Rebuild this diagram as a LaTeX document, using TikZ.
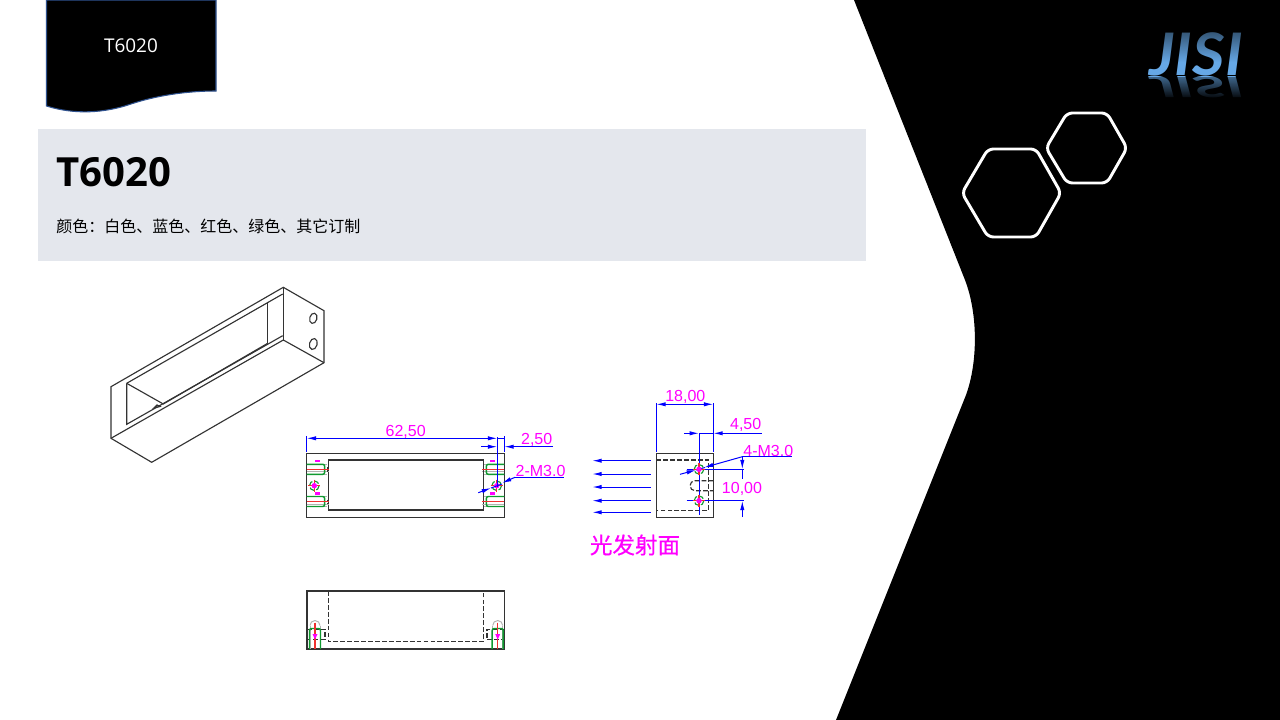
\documentclass[tikz,border=0pt]{standalone}
\usepackage{fontspec}
\setmainfont{Open Sans}
\newfontfamily\cjk{Noto Sans CJK SC}
\newfontfamily\cjkheavy[FakeBold=0.6]{Noto Sans CJK SC}
\newfontfamily\dimfont{Liberation Sans}
\newfontfamily\logofont{Lato}
\usetikzlibrary{arrows.meta,fadings}
\definecolor{bandgrey}{HTML}{E4E7ED}
\definecolor{tabedge}{HTML}{2F528F}
\definecolor{cadblue}{HTML}{0000FF}
\definecolor{cadgreen}{HTML}{109A30}
\definecolor{cadred}{HTML}{F03030}
\definecolor{cadmag}{HTML}{FF00FF}
\definecolor{cadline}{HTML}{333333}
\definecolor{logoblue}{HTML}{66A8E6}
\tikzfading[name=fadedown,top color=transparent!45,bottom color=transparent!100]
\tikzfading[name=faderefl,top color=transparent!60,bottom color=transparent!0]
\tikzset{
  cad/.style={draw=cadline,line width=.85pt},
  caddash/.style={draw=cadline,line width=.85pt,dash pattern=on 3.6pt off 1.6pt},
  dimline/.style={draw=cadblue,line width=.75pt},
  dimboth/.style={dimline,{Latex[length=7pt,width=3.2pt]}-{Latex[length=7pt,width=3.2pt]}},
  dimtip/.style={dimline,-{Latex[length=7pt,width=3.2pt]}},
  dimtext/.style={text=cadmag,inner sep=0pt,font=\dimfont\fontsize{12}{13}\selectfont},
  hexa/.style={draw=white,line width=2.2pt,rounded corners=4pt},
}
\newcommand{\screwh}[3]{% x of wall, y centre, direction
  \begin{scope}[shift={(#1,#2)},xscale=#3]
    \draw[draw=gray!60,line width=.7pt] (0,-5) -- (20,-5) (0,5) -- (20,5) (0,2.5) -- (22,2.5);
    \draw[draw=cadgreen,line width=1.1pt,rounded corners=1.5pt] (0,-5) -- (18,-5) -- (18,5) -- (0,5);
    \draw[draw=cadred,line width=.9pt] (0,0) -- (22,0);
    \draw[cad] (21,-2) -- (21,-.5) (21,1) -- (21,2.5);
  \end{scope}
}
\newcommand{\holemark}[2]{%
  \begin{scope}[shift={(#1,#2)}]
    \draw[draw=cadgreen,line width=.85pt,dash pattern=on 4pt off 1.5pt] (0,0) circle (4.8);
    \draw[draw=cadred,line width=.85pt] (-6,0) -- (6,0) (0,-6) -- (0,6);
    \fill[cadmag] (0,0) circle (2.7);
  \end{scope}
}
\newcommand{\tinymark}[2]{\fill[cadmag] (#1-2.5,#2-1.2) rectangle (#1+2.5,#2+1.2);}
\newcommand{\screwv}[2]{%
  \begin{scope}[shift={(#1,#2)}]
    \draw[draw=gray!60,line width=.7pt] (-5,0) arc[start angle=180,end angle=360,radius=5];
    \draw[draw=gray!60,line width=.7pt] (-5,0) -- (-5,23.5) (5,0) -- (5,23.5);
    \draw[draw=cadgreen,line width=1.1pt,rounded corners=1.5pt] (-5.5,23.5) -- (-5.5,3) -- (5.5,3) -- (5.5,23.5);
    \draw[draw=cadred,line width=.9pt] (0,-3) -- (0,23.5);
    \fill[cadmag] (-2.5,8.5) -- (2.5,8.5) -- (0,14) -- cycle;
  \end{scope}
}
\begin{document}
\begin{tikzpicture}[x=.75pt,y=-.75pt]
\useasboundingbox (0,0) rectangle (1280,720);
\fill[white] (0,0) rectangle (1280,720);
% right black area
\fill[black] (854,0) -- (965,280) .. controls (978,314) and (978,362) .. (966,395) -- (836,720) -- (1280,720) -- (1280,0) -- cycle;
% hexagons
\draw[hexa] (962,193) -- (988,149) -- (1036,149) -- (1061,193) -- (1036,237) -- (988,237) -- cycle;
\draw[hexa] (1046,148) -- (1067,113) -- (1107,113) -- (1127,148) -- (1107,183) -- (1067,183) -- cycle;
% logo
\node[anchor=base,inner sep=0pt,text=logoblue] (logo) at (1196,76)
  {\scalebox{1.07}[1.0]{\logofont\fontsize{44}{44}\selectfont\bfseries\itshape JISI}};
\node[anchor=base,inner sep=0pt,text=logoblue] (logorefl) at (1196,77)
  {\scalebox{1.07}[-.5]{\logofont\fontsize{44}{44}\selectfont\bfseries\itshape JISI}};
\fill[black,path fading=fadedown] (1140,28) rectangle (1250,62);
\fill[black,path fading=faderefl] (1140,77) rectangle (1250,100);
% tab
\draw[fill=black,draw=tabedge,line width=.8pt] (46.5,0) -- (216,0) -- (216,91)
  .. controls (185,91) and (155,96) .. (131,104)
  .. controls (105,113) and (75,115) .. (46.5,106) -- cycle;
\node[text=white,inner sep=0pt,font=\fontsize{14.2}{16}\selectfont] (tabtext) at (131,46) {T6020};
% band
\fill[bandgrey] (38,129) rectangle (866,261);
\node[anchor=base west,inner sep=0pt,font=\fontsize{30.1}{32}\selectfont\bfseries] (title) at (56,187) {T6020};
\node[anchor=base west,inner sep=0pt,font=\cjk\fontsize{12}{14}\selectfont] (subtitle) at (56,233) {颜色：白色、蓝色、红色、绿色、其它订制};
% isometric view
\draw[cad] (111,386.7) -- (283.3,287.3) -- (324,310.7) -- (324,362.7) -- (151.7,462.3) -- (111,438.3) -- cycle;
\draw[cad] (111,438.3) -- (283.3,340) -- (324,362.7);
\draw[cad] (283.3,287.3) -- (283.3,340);
\draw[cad] (126.7,383.3) -- (282.7,294);
\draw[cad] (126.7,383.3) -- (126.7,424.3) -- (282.7,335.7);
\draw[cad] (267.7,301.7) -- (267.7,343.3);
\draw[cad] (126.7,383.3) -- (163.3,404) -- (267.7,343.3);
\draw[cad,fill=gray!60] (154,408) -- (157,405) -- (160,406.5) -- cycle;
\draw[cad] (313.3,318.3) ellipse[x radius=3.6,y radius=5.2,rotate=-15];
\draw[cad] (313.3,344) ellipse[x radius=3.8,y radius=5.6,rotate=-15];
% front view
\draw[cad] (306.7,453.3) rectangle (504.3,517.3);
\draw[cad] (328.3,460) rectangle (483.3,510);
\screwh{306.7}{469.3}{1}
\screwh{306.7}{501.5}{1}
\screwh{504.3}{469.3}{-1}
\screwh{504.3}{501.5}{-1}
\holemark{314.3}{485.7}
\holemark{496.7}{485.7}
\tinymark{317.7}{461}
\tinymark{317.7}{493.3}
\tinymark{492.7}{461}
\tinymark{492.7}{493.3}
\draw[dimline] (306.7,436) -- (306.7,452);
\draw[dimline] (504.3,436) -- (504.3,452);
\draw[dimline] (497.3,437) -- (497.3,487);
\draw[dimboth] (306.7,438.3) -- (497.3,438.3);
\draw[dimline] (497.3,438.3) -- (504.3,438.3);
\draw[dimtip] (481,446.7) -- (497.3,446.7);
\draw[dimtip] (553,446.7) -- (504.3,446.7);
\draw[dimtip] (478.3,492.7) -- (491,488);
\draw[dimline] (491,488) -- (502,484);
\draw[dimtip] (515,477.3) -- (502,483);
\draw[dimline] (515,477.3) -- (564,477.3);
\node[dimtext] (d6250) at (405.7,431.7) {62,50};
\node[dimtext] (d250) at (536.7,440) {2,50};
\node[dimtext] (dm30a) at (540.5,471) {2-M3.0};
% side view
\foreach \yy in {460.7,474,487,500.7,512.3}
  \draw[dimtip] (650.7,\yy) -- (592.3,\yy);
\draw[cad] (656.3,453.3) rectangle (713.3,517.3);
\draw[caddash] (656.3,460) -- (708.3,460) -- (708.3,510.7) -- (656.3,510.7);
\draw[caddash] (713.3,480.7) -- (695,480.7) arc[start angle=270,end angle=90,radius=5] -- (713.3,490.7);
\draw[dimline] (656.3,403) -- (656.3,452);
\draw[dimline] (713.3,403) -- (713.3,452);
\draw[dimboth] (656.3,404.3) -- (713.3,404.3);
\draw[dimline] (699,433.3) -- (699,514.5);
\draw[dimtip] (684,433.3) -- (699,433.3);
\draw[dimtip] (761.7,433.3) -- (713.3,433.3);
\draw[dimline] (699,433.3) -- (713.3,433.3);
\draw[dimtip] (680,474.3) -- (696,470);
\draw[dimline] (696,470) -- (705,467.5);
\draw[dimtip] (742.3,456.7) -- (704,467.5);
\draw[dimline] (742.3,456.7) -- (791.7,456.7);
\draw[dimline] (686.7,469.3) -- (743.5,469.3);
\draw[dimline] (686.7,500.7) -- (743.5,500.7);
\draw[dimtip] (742.3,456.7) -- (742.3,469.3);
\draw[dimline] (742.3,469.3) -- (742.3,479);
\draw[dimtip] (742.3,517) -- (742.3,500.7);
\holemark{699}{469.3}
\holemark{699}{500.7}
\node[dimtext] (d1800) at (685.3,396.7) {18,00};
\node[dimtext] (d450) at (745.7,425) {4,50};
\node[dimtext] (dm30b) at (768.3,451) {4-M3.0};
\node[dimtext] (d1000) at (742,489.3) {10,00};
\node[text=cadmag,inner sep=0pt,font=\cjkheavy\fontsize{16.9}{18}\selectfont] (light) at (635,545) {光发射面};
% bottom view
\draw[cad] (307,591) rectangle (504.3,649);
\draw[caddash] (328.7,591) -- (328.7,641.7) -- (483.3,641.7) -- (483.3,591);
\draw[caddash] (307,629.3) -- (325,629.3) -- (325,639.3);
\draw[caddash] (325,639.3) -- (307,639.3);
\draw[caddash] (504.3,629.3) -- (487,629.3) -- (487,639.3) -- (504.3,639.3);
\screwv{315}{625.5}
\screwv{497.7}{625.5}
\end{tikzpicture}
\end{document}
